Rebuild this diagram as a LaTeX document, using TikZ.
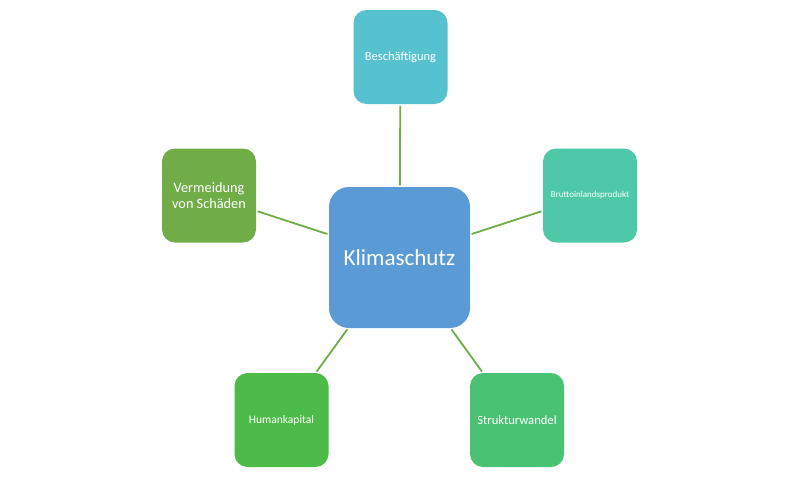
\documentclass[tikz,border=0pt]{standalone}
\usepackage{fontspec}
\setmainfont{Carlito}
\definecolor{cBlue}{HTML}{5B9BD5}
\definecolor{cCyan}{HTML}{56C2CF}
\definecolor{cTeal}{HTML}{4EC9A8}
\definecolor{cOlive}{HTML}{70AD47}
\definecolor{cGreen}{HTML}{4CBB47}
\definecolor{cMint}{HTML}{4AC273}
\definecolor{cLine}{HTML}{70AD47}
\begin{document}
\begin{tikzpicture}[x=1pt,y=-1pt,
  leaf/.style={rectangle, rounded corners=13pt, minimum width=94pt, minimum height=94pt,
    inner sep=0pt, text=white, align=center, font=\fontsize{12.5}{17}\selectfont},
  hub/.style={rectangle, rounded corners=20pt, minimum width=141pt, minimum height=141pt,
    inner sep=0pt, fill=cBlue, text=white, font=\fontsize{23}{27}\selectfont},
  link/.style={draw=cLine, line width=1.8pt, shorten <=1.5pt, shorten >=1.5pt}]
\useasboundingbox (0,0) rectangle (800,479);
\node[hub] (k) at (399.5,257.5) {Klimaschutz};
\node[leaf, fill=cCyan] (b) at (400.5,57) {Beschäftigung};
\node[leaf, fill=cTeal, font=\fontsize{9}{11}\selectfont] (p) at (590,195.5) {Bruttoinlandsprodukt};
\node[leaf, fill=cOlive, font=\fontsize{14.3}{16.5}\selectfont] (v) at (209,195.5) {Vermeidung\\von Schäden};
\node[leaf, fill=cGreen, font=\fontsize{11.5}{14}\selectfont] (h) at (281.5,420) {Humankapital};
\node[leaf, fill=cMint, font=\fontsize{12.6}{15}\selectfont] (s) at (517,420) {Strukturwandel};
\draw[link] (k) -- (b);
\draw[link] (k) -- (p);
\draw[link] (k) -- (v);
\draw[link] (k) -- (h);
\draw[link] (k) -- (s);
\end{tikzpicture}
\end{document}
